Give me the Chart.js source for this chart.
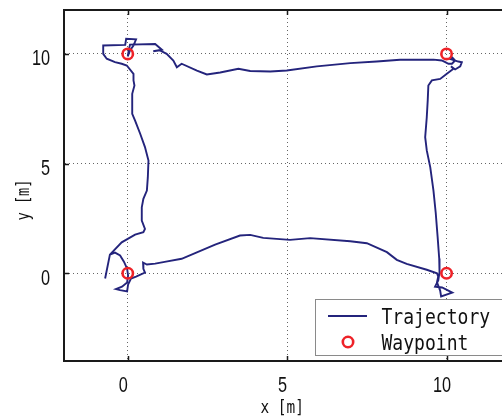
<!DOCTYPE html>
<html>
<head>
<meta charset="utf-8">
<script src="https://cdn.jsdelivr.net/npm/chart.js@4/dist/chart.umd.min.js"></script>
<style>
html,body{margin:0;padding:0;background:#fff;}
#wrap{width:502px;height:419px;}
</style>
</head>
<body>
<div id="wrap"><canvas id="c" width="502" height="419"></canvas></div>
<script>
// ---- data ----
const seriesLabels = ['Trajectory', 'Waypoint'];
const trajX = [-0.71,-0.56,-0.19,0.23,0.49,0.54,0.44,0.44,0.49,0.60,0.63,0.65,0.54,0.39,0.23,0.14,0.14,0.21,0.18,0.18,
  -0.03,-0.19,-0.40,-0.66,-0.77,-0.77,-0.08,-0.05,0.26,0.18,0.07,0.00,0.03,0.07,0.86,1.07,0.80,1.01,1.22,1.43,
  1.54,1.69,2.17,2.48,2.90,3.47,3.84,4.47,4.99,5.93,6.98,7.81,8.54,9.59,9.85,9.96,10.06,10.17,10.27,10.18,
  10.11,10.37,10.48,10.43,10.27,10.14,10.22,10.01,9.80,9.54,9.43,9.41,9.38,9.33,9.38,9.49,9.59,9.66,9.72,9.77,
  9.78,9.74,9.64,9.86,10.18,9.83,9.80,9.70,9.74,9.70,9.38,8.75,8.44,8.13,7.50,6.98,5.72,5.09,4.25,3.84,
  3.52,2.74,1.69,1.20,0.86,0.60,0.48,0.49,0.54,0.26,0.10,0.01,-0.02,-0.24,-0.37,-0.18,-0.02,0.01,-0.02,-0.12,
  -0.24,-0.40,-0.56];
const trajY = [-0.24,0.85,1.41,1.76,1.87,2.02,2.40,3.01,3.39,3.77,4.38,5.14,5.75,6.36,6.96,7.27,8.18,8.56,8.79,9.09,
  9.47,9.55,9.62,9.78,10.00,10.38,10.41,10.69,10.66,10.38,10.16,9.88,10.16,10.42,10.45,10.19,10.12,10.16,10.00,9.70,
  9.39,9.55,9.24,9.06,9.15,9.32,9.22,9.20,9.24,9.43,9.58,9.65,9.73,9.74,9.70,9.62,9.55,9.55,9.70,9.84,
  9.77,9.65,9.62,9.43,9.29,9.43,9.32,9.09,8.86,8.79,8.56,7.88,7.11,6.20,5.60,4.83,3.77,2.77,1.67,0.67,
  0.05,-0.33,-0.61,-0.65,-0.88,-1.06,-0.79,-0.42,-0.15,0.00,0.16,0.43,0.61,0.96,1.37,1.46,1.60,1.52,1.61,1.75,
  1.72,1.31,0.66,0.53,0.44,0.40,0.49,0.20,0.03,-0.15,-0.24,-0.52,-0.83,-0.77,-0.72,-0.61,-0.42,-0.10,0.21,0.53,
  0.81,0.94,0.85];
const waypointX = [0, 10, 10, 0];
const waypointY = [0, 0, 10, 10];
const xTickValues = [0, 5, 10];
const yTickValues = [0, 5, 10];
const xAxisTitle = 'x [m]';
const yAxisTitle = 'y [m]';

const trajPoints = trajX.map((x, i) => ({x: x, y: trajY[i]}));
const wpPoints = waypointX.map((x, i) => ({x: x, y: waypointY[i]}));

const LINE_COLOR = '#24247c';
const WP_COLOR = '#ee2228';
const AXIS_COLOR = '#1a1a1a';
const TEXT_COLOR = '#111';
const MONO = '"DejaVu Sans Mono", "Liberation Mono", monospace';
const SANS = '"Liberation Sans", Arial, sans-serif';

function noPad(s) { s.paddingTop = 0; s.paddingBottom = 0; s.paddingLeft = 0; s.paddingRight = 0; }

// draw text horizontally condensed (narrow glyphs like the original figure)
function condensedText(ctx, text, x, y, sx, align) {
  ctx.save();
  ctx.translate(x, y);
  ctx.scale(sx, 1);
  ctx.textAlign = align;
  ctx.fillText(text, 0, 0);
  ctx.restore();
}

const framePlugin = {
  id: 'frame',
  afterDraw(chart) {
    const ctx = chart.ctx;
    const a = chart.chartArea;
    const xs = chart.scales.x, ys = chart.scales.y;
    ctx.save();
    // top border
    ctx.strokeStyle = AXIS_COLOR;
    ctx.lineWidth = 2;
    ctx.beginPath();
    ctx.moveTo(a.left - 1, a.top);
    ctx.lineTo(a.right + 2, a.top);
    ctx.stroke();
    // inward ticks
    ctx.lineWidth = 1.5;
    ctx.beginPath();
    xs.ticks.forEach(t => {
      const px = Math.round(xs.getPixelForValue(t.value)) + 0.5;
      ctx.moveTo(px, a.top); ctx.lineTo(px, a.top + 5);
      ctx.moveTo(px, a.bottom); ctx.lineTo(px, a.bottom - 5);
    });
    ys.ticks.forEach(t => {
      const py = Math.round(ys.getPixelForValue(t.value)) + 0.5;
      ctx.moveTo(a.left, py); ctx.lineTo(a.left + 5, py);
    });
    ctx.stroke();

    // tick labels (from the scales' own ticks)
    ctx.fillStyle = TEXT_COLOR;
    ctx.font = '22px ' + SANS;
    ctx.textBaseline = 'alphabetic';
    xs.ticks.forEach(t => {
      condensedText(ctx, String(t.label), xs.getPixelForValue(t.value) - 4.5, a.bottom + 31, 0.74, 'center');
    });
    ys.ticks.forEach(t => {
      condensedText(ctx, String(t.label), a.left - 14, ys.getPixelForValue(t.value) + 11.5, 0.74, 'right');
    });

    // axis titles
    ctx.font = '18px ' + MONO;
    ctx.textBaseline = 'alphabetic';
    condensedText(ctx, xAxisTitle, xs.getPixelForValue(5) - 5, 412.5, 0.8, 'center');
    ctx.save();
    ctx.translate(29, 200);
    ctx.rotate(-Math.PI / 2);
    condensedText(ctx, yAxisTitle, 0, 0, 0.76, 'center');
    ctx.restore();

    // legend
    const ds = chart.data.datasets;
    const bx = 315.5, by = 299.5, bw = 200, bh = 56;
    ctx.fillStyle = '#fff';
    ctx.fillRect(bx, by, bw, bh);
    ctx.strokeStyle = '#8a8a8a';
    ctx.lineWidth = 1;
    ctx.strokeRect(bx, by, bw, bh);
    ctx.strokeStyle = ds[0].borderColor;
    ctx.lineWidth = ds[0].borderWidth;
    ctx.beginPath();
    ctx.moveTo(328, 316); ctx.lineTo(367, 316);
    ctx.stroke();
    ctx.strokeStyle = ds[1].borderColor;
    ctx.lineWidth = ds[1].borderWidth;
    ctx.beginPath();
    ctx.arc(348, 342, ds[1].pointRadius, 0, Math.PI * 2);
    ctx.stroke();
    ctx.fillStyle = TEXT_COLOR;
    ctx.font = '22px ' + MONO;
    ctx.textBaseline = 'alphabetic';
    condensedText(ctx, ds[0].label, 381.5, 323.5, 0.82, 'left');
    condensedText(ctx, ds[1].label, 381.5, 350, 0.82, 'left');
    ctx.restore();
  }
};

new Chart(document.getElementById('c'), {
  type: 'scatter',
  data: {
    datasets: [
      {
        label: seriesLabels[0],
        data: trajPoints,
        showLine: true,
        borderColor: LINE_COLOR,
        backgroundColor: LINE_COLOR,
        borderWidth: 1.9,
        pointRadius: 0,
        pointHoverRadius: 0,
        tension: 0,
        order: 2
      },
      {
        label: seriesLabels[1],
        data: wpPoints,
        showLine: false,
        borderColor: WP_COLOR,
        backgroundColor: 'rgba(0,0,0,0)',
        borderWidth: 2.6,
        pointRadius: 5.2,
        pointStyle: 'circle',
        order: 1
      }
    ]
  },
  options: {
    responsive: false,
    animation: false,
    devicePixelRatio: 1,
    layout: {autoPadding: false, padding: {left: 0, top: 10, right: 0, bottom: 0}},
    plugins: {legend: {display: false}, tooltip: {enabled: false}},
    scales: {
      x: {
        type: 'linear',
        min: -2,
        max: 11.74,
        afterFit(s) { s.height = 58; noPad(s); },
        afterBuildTicks(s) { s.ticks = xTickValues.map(v => ({value: v})); },
        grid: {color: '#666', lineWidth: 1, drawTicks: false},
        border: {display: true, color: AXIS_COLOR, width: 2, dash: [1, 3]},
        ticks: {display: false}
      },
      y: {
        type: 'linear',
        min: -4,
        max: 12,
        afterFit(s) { s.width = 64; noPad(s); },
        afterBuildTicks(s) { s.ticks = yTickValues.map(v => ({value: v})); },
        grid: {color: '#666', lineWidth: 1, drawTicks: false},
        border: {display: true, color: AXIS_COLOR, width: 2, dash: [1, 3]},
        ticks: {display: false}
      }
    }
  },
  plugins: [framePlugin]
});
</script>
</body>
</html>
